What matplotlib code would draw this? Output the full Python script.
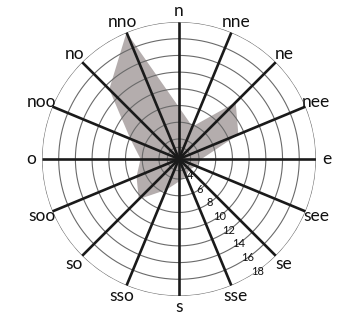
import numpy as np
import matplotlib
matplotlib.use("Agg")
import matplotlib.pyplot as plt

# wind directions, clockwise from north
directions = ["n", "nne", "ne", "nee", "e", "see", "se", "sse",
              "s", "sso", "so", "soo", "o", "noo", "no", "nno"]
# frequency per direction
values = [7.8, 5.8, 11.2, 9.3, 4.3, 3.8, 3.4, 3.8,
          4.3, 5.6, 8.4, 7.1, 6.2, 7.9, 13.4, 18.0]
ring_values = [3, 4, 6, 8, 10, 12, 14, 16, 18]
ring_labels = [4, 6, 8, 10, 12, 14, 16, 18]

r_min, r_max = 1.6, 18.0

plt.rcParams['font.family'] = ['Lato', 'DejaVu Sans']

fig = plt.figure(figsize=(3.49, 3.22), dpi=100)
ax = fig.add_axes([0.1203, 0.0807, 0.785, 0.851], projection='polar')
ax.set_theta_zero_location('N')
ax.set_theta_direction(-1)
ax.set_ylim(r_min, r_max)
ax.set_xticks([])
ax.set_yticks([])
ax.grid(False)
ax.spines['polar'].set_visible(False)

angles = np.deg2rad(np.arange(len(directions)) * 22.5)

# shaded rose
th = np.append(angles, angles[0])
vals = np.append(values, values[0])
ax.fill(th, vals, color='#b4adad', lw=0, zorder=1)

# rings
circ = np.linspace(0, 2 * np.pi, 400)
for r in ring_values:
    ax.plot(circ, np.full_like(circ, r), color='#6a6a6a', lw=0.8, zorder=2)

# spokes
for a in angles:
    ax.plot([a, a], [r_min, r_max], color='#1a1a1a', lw=1.9, zorder=3,
            solid_capstyle='butt')

# direction names
for a, name in zip(angles, directions):
    ax.text(a, 19.35, name, ha='center', va='center', fontsize=12.5,
            color='#111111', clip_on=False)

# ring values along the se/sse gap
lab_angle = np.deg2rad(145)
for r in ring_labels:
    ax.text(lab_angle, r, str(r), ha='center', va='center', fontsize=8,
            color='#111111', zorder=4)

fig.savefig('out.png', dpi=100, facecolor='white')
